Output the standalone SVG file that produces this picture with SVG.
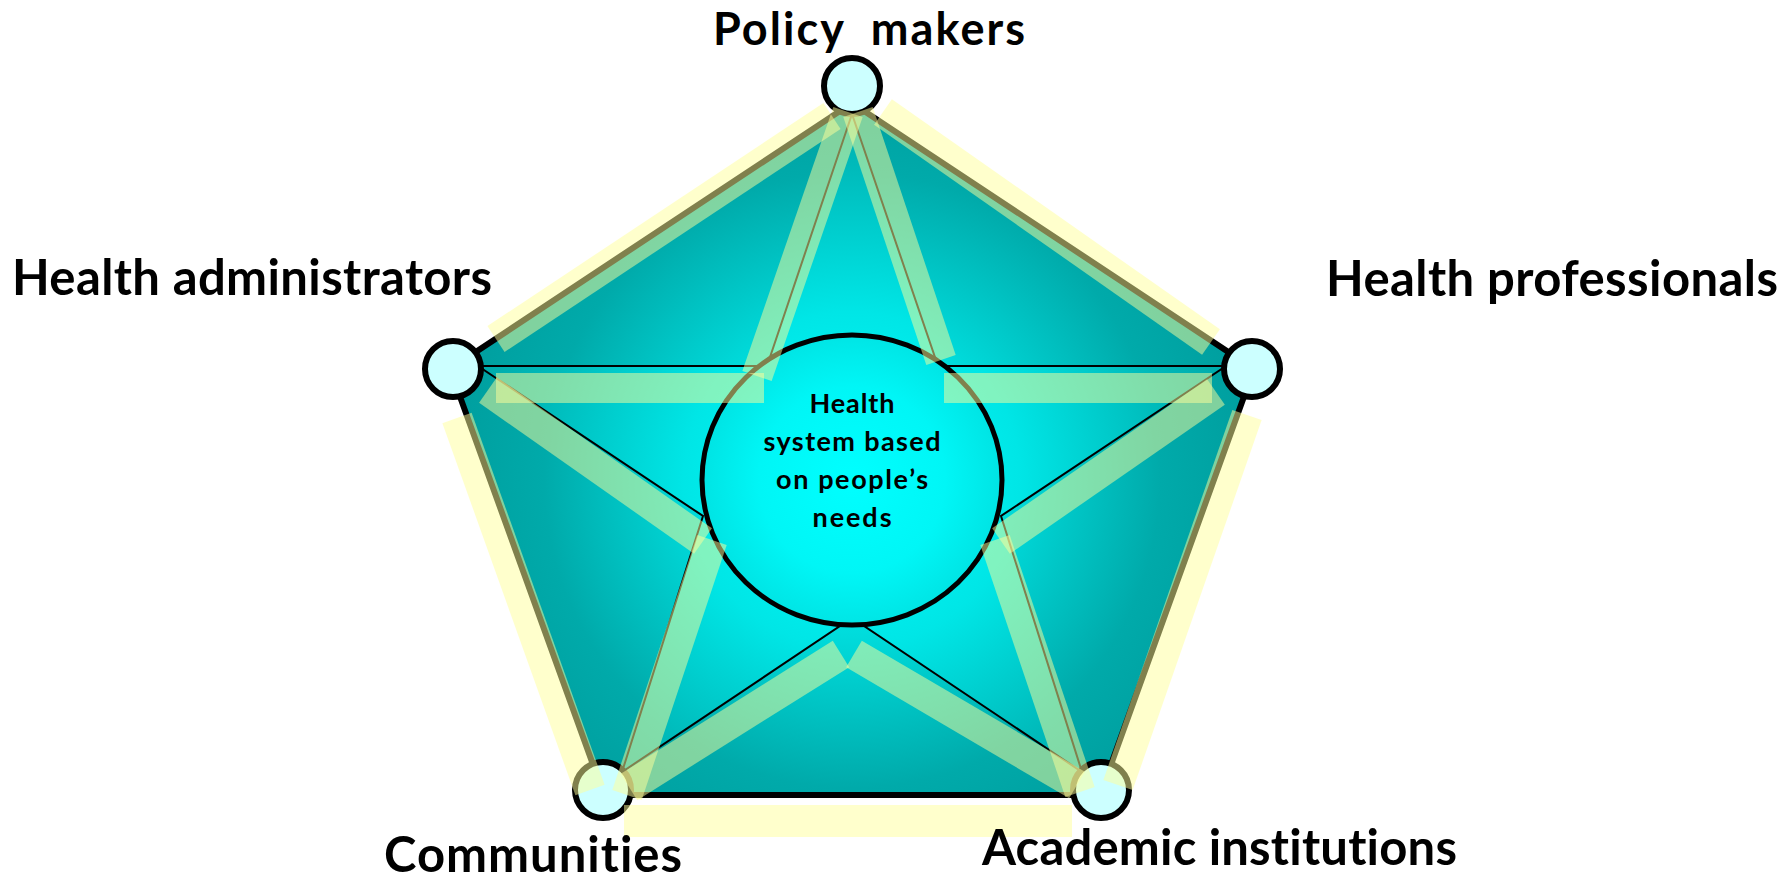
<svg xmlns="http://www.w3.org/2000/svg" width="1791" height="879" viewBox="0 0 1791 879">
<defs>
<radialGradient id="gPent" gradientUnits="userSpaceOnUse" cx="852" cy="480" r="440">
<stop offset="0" stop-color="#00FFFF"/>
<stop offset="0.35" stop-color="#00DCDC"/>
<stop offset="0.7" stop-color="#00AAAA"/>
<stop offset="1" stop-color="#009A9A"/>
</radialGradient>
<radialGradient id="gStar" gradientUnits="userSpaceOnUse" cx="852" cy="480" r="420">
<stop offset="0" stop-color="#00FFFF"/>
<stop offset="0.4" stop-color="#00E6E6"/>
<stop offset="0.75" stop-color="#00BABA"/>
<stop offset="1" stop-color="#00A4A4"/>
</radialGradient>
<radialGradient id="gHub" gradientUnits="userSpaceOnUse" cx="852" cy="480" r="155">
<stop offset="0" stop-color="#00FFFF"/>
<stop offset="0.6" stop-color="#00F6F6"/>
<stop offset="1" stop-color="#00E2E2"/>
</radialGradient>
<style>
.lbl{font-family:Lato,"Open Sans","Liberation Sans",sans-serif;font-weight:700;font-size:49px;fill:#000;font-variant-ligatures:none}
.top{font-size:45px}
.hubtxt{font-family:Lato,"Open Sans","Liberation Sans",sans-serif;font-weight:700;font-size:27px;fill:#000;text-anchor:middle;font-variant-ligatures:none}
.node{fill:#CCFFFF;stroke:#000;stroke-width:6}
.band{stroke:#FFFF99;stroke-opacity:0.5;stroke-width:31;stroke-linecap:butt;fill:none}
.bandr{fill:#FFFF99;fill-opacity:0.5}
.star{fill:url(#gStar);stroke:#000;stroke-width:2;stroke-linejoin:miter}
</style>
</defs>
<rect width="1791" height="879" fill="#FFFFFF"/>

<g id="pentagon">
<polygon points="852,103 1254,369 1100,795 604,795 450,369" fill="url(#gPent)" stroke="#000" stroke-width="6" stroke-linejoin="miter"/>
</g>

<g id="connectors">
<polygon class="star" points="852,114 938,366 1226,366 1001,516 1082,772 852,618 622,772 703,516 478,366 767,366"/>
</g>

<g id="hub">
<ellipse cx="852" cy="480" rx="150" ry="145" fill="url(#gHub)" stroke="#000" stroke-width="5"/>
<text class="hubtxt" x="852" y="413" textLength="85">Health</text>
<text class="hubtxt" x="852" y="451" textLength="177">system based</text>
<text class="hubtxt" x="852" y="489" textLength="152">on people’s</text>
<text class="hubtxt" x="852" y="527" textLength="79">needs</text>
</g>

<g id="node-policy-makers"><circle class="node" cx="852" cy="86" r="28"/></g>
<g id="node-health-administrators"><circle class="node" cx="453" cy="369" r="28"/></g>
<g id="node-health-professionals"><circle class="node" cx="1252" cy="369" r="28"/></g>
<g id="node-communities"><circle class="node" cx="603" cy="790" r="28"/></g>
<g id="node-academic-institutions"><circle class="node" cx="1101" cy="790" r="28"/></g>

<g id="highlights">
<line class="band" x1="496" y1="339" x2="832" y2="116"/>
<line class="band" x1="883" y1="112" x2="1211" y2="342"/>
<line class="band" x1="1247" y1="415" x2="1118" y2="785"/>
<line class="band" x1="457" y1="418" x2="590" y2="790"/>
<rect class="bandr" x="624" y="805" width="448" height="32"/>
<line class="band" x1="848" y1="112" x2="757" y2="376"/>
<line class="band" x1="858" y1="112" x2="941" y2="360"/>
<rect class="bandr" x="496" y="373" width="268" height="30"/>
<rect class="bandr" x="944" y="373" width="268" height="30"/>
<line class="band" x1="488" y1="390" x2="703" y2="541"/>
<line class="band" x1="1216" y1="392" x2="1001" y2="541"/>
<line class="band" x1="627" y1="795" x2="712" y2="540"/>
<line class="band" x1="1080" y1="792" x2="995" y2="540"/>
<line class="band" x1="629" y1="787" x2="841" y2="654"/>
<line class="band" x1="1077" y1="785" x2="854" y2="654"/>
</g>

<g id="labels">
<text class="lbl top" x="713" y="45" textLength="312" xml:space="preserve">Policy  makers</text>
<text class="lbl" x="12" y="295" textLength="480">Health administrators</text>
<text class="lbl" x="1326" y="296" textLength="452">Health professionals</text>
<text class="lbl" x="384" y="872" textLength="298">Communities</text>
<text class="lbl" x="982" y="865" textLength="475">Academic institutions</text>
</g>
</svg>
